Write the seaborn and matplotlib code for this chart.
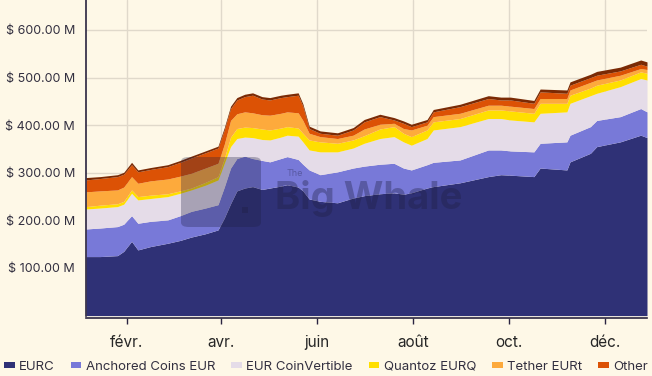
import pandas as pd
import numpy as np
import matplotlib
matplotlib.use("Agg")
import matplotlib.pyplot as plt
from matplotlib.patches import FancyBboxPatch, Rectangle
import seaborn as sns

# ==========================================
# DATA (millions USD)
# ==========================================

dates = ["2024-01-06", "2024-01-15", "2024-01-26", "2024-01-30", "2024-02-04", "2024-02-08",
         "2024-02-16", "2024-02-27", "2024-03-06", "2024-03-13", "2024-03-22", "2024-03-30",
         "2024-04-03", "2024-04-07", "2024-04-11", "2024-04-16", "2024-04-21", "2024-04-27",
         "2024-05-02", "2024-05-09", "2024-05-13", "2024-05-20", "2024-05-23", "2024-05-27",
         "2024-06-03", "2024-06-14", "2024-06-24", "2024-07-01", "2024-07-11", "2024-07-20",
         "2024-07-26", "2024-07-31", "2024-08-10", "2024-08-14", "2024-08-31", "2024-09-18",
         "2024-09-26", "2024-10-02", "2024-10-17", "2024-10-21", "2024-11-07", "2024-11-09",
         "2024-11-22", "2024-11-26", "2024-12-11", "2024-12-24", "2024-12-28"]

eurc = [124, 124, 126, 135, 156, 138, 145, 152, 158, 165, 172, 180,
        205, 235, 262, 268, 271, 265, 268, 272, 275, 270, 262, 245,
        240, 237, 247, 252, 256, 258, 255, 258, 268, 271, 279, 292,
        296, 295, 292, 310, 306, 323, 341, 355, 365, 379, 374]
anchored = [58, 60, 61, 57, 54, 56, 53, 49, 52, 54, 54, 53,
            65, 75, 68, 67, 59, 61, 55, 58, 59, 58, 56, 61,
            56, 65, 63, 62, 62, 62, 55, 48, 49, 51, 48, 56,
            52, 51, 52, 52, 59, 56, 56, 55, 53, 56, 54]
coinvertible = [42, 42, 42, 42, 47, 49, 48, 49, 47, 45, 48, 52,
                50, 45, 42, 40, 44, 44, 46, 45, 45, 49, 47, 42,
                48, 42, 42, 48, 54, 56, 55, 52, 55, 68, 70, 66,
                66, 65, 63, 63, 63, 67, 65, 57, 63, 63, 67]
eurq = [5, 6, 6, 6, 7, 7, 7, 6, 5, 4, 6, 7,
        10, 20, 21, 21, 21, 22, 21, 19, 18, 17, 18, 21,
        21, 18, 17, 16, 20, 21, 18, 18, 18, 17, 17, 18,
        18, 19, 18, 21, 18, 17, 16, 17, 14, 14, 14]
eurt = [31, 30, 29, 30, 28, 28, 30, 31, 31, 31, 30, 28,
        30, 35, 31, 32, 31, 30, 31, 31, 31, 32, 27, 14,
        11, 10, 10, 14, 10, 7, 10, 14, 10, 11, 11, 10,
        10, 10, 10, 10, 10, 11, 12, 11, 10, 7, 8]
other = [25, 26, 28, 27, 25, 24, 24, 26, 29, 32, 32, 32,
         30, 25, 29, 32, 37, 33, 32, 33, 32, 37, 30, 10,
         7, 7, 11, 15, 16, 7, 11, 7, 7, 10, 14, 14,
         11, 13, 11, 14, 11, 10, 10, 10, 9, 9, 7]
rest = [5, 4, 4, 4, 5, 4, 4, 4, 4, 4, 4, 4,
        5, 5, 5, 5, 5, 5, 5, 5, 5, 5, 5, 5,
        5, 5, 5, 5, 5, 5, 5, 5, 5, 5, 5, 6,
        6, 6, 6, 6, 7, 7, 7, 8, 8, 9, 9]

names = ["EURC", "Anchored Coins EUR", "EUR CoinVertible", "Quantoz EURQ", "Tether EURt", "Other"]
colors = ["#2f3176", "#7879d8", "#e5dce8", "#ffdf00", "#fdaa3c", "#dc5205", "#7a2a05"]

month_ticks = ["2024-02-01", "2024-04-01", "2024-06-01", "2024-08-01", "2024-10-01", "2024-12-01"]
month_labels = ["févr.", "avr.", "juin", "août", "oct.", "déc."]
y_ticks = [100, 200, 300, 400, 500, 600]

# ==========================================
# PLOT
# ==========================================

bg = "#fef8e7"
sns.set_theme(style="whitegrid", rc={"figure.facecolor": bg, "axes.facecolor": bg,
                                     "grid.color": "#e0d9cb", "grid.linewidth": 1.0})
plt.rcParams["font.family"] = ["Inter", "DejaVu Sans"]

x = pd.to_datetime(dates)
fig = plt.figure(figsize=(6.52, 3.76), dpi=100)
ax = fig.add_axes([86 / 652, 1 - 315.6 / 376, 561 / 652, 315.6 / 376])

ax.stackplot(x, eurc, anchored, coinvertible, eurq, eurt, other, rest,
             colors=colors, labels=names + ["_rest"], linewidth=0)

ax.set_xlim(pd.Timestamp("2024-01-06"), pd.Timestamp("2024-12-28"))
ax.set_ylim(0, 663)
ax.set_xticks(pd.to_datetime(month_ticks))
ax.set_xticklabels(month_labels, fontsize=8.5, fontweight="bold", color="#2a2440")
ax.set_yticks(y_ticks)
ax.set_yticklabels([f"$ {v:.2f} M" for v in y_ticks], fontsize=9, color="#333040")
ax.tick_params(axis="x", length=4, width=1, color="#2a2440", pad=8, bottom=True)
ax.tick_params(axis="y", length=0, pad=8)
ax.grid(True, axis="both")
ax.set_axisbelow(True)

for side in ["top", "right"]:
    ax.spines[side].set_visible(False)
for side in ["left", "bottom"]:
    ax.spines[side].set_color("#2a2440")
    ax.spines[side].set_linewidth(1.2)
ax.spines["bottom"].set_position(("outward", 2))

# watermark
wm = "#1e1e40"
logo = FancyBboxPatch((181 / 652, 1 - 227 / 376), 80 / 652, 70 / 376,
                      boxstyle="round,pad=0,rounding_size=0.012",
                      transform=fig.transFigure, facecolor=wm, edgecolor="none",
                      alpha=0.3, zorder=5)
fig.patches.append(logo)
fig.patches.append(Rectangle((242 / 652, 1 - 213 / 376), 6 / 652, 6 / 376,
                             transform=fig.transFigure, facecolor=wm, alpha=0.35,
                             edgecolor="none", zorder=6))
fig.text(275 / 652, 1 - 209 / 376, "Big Whale", fontsize=27.5, fontweight="bold",
         color=wm, alpha=0.35, va="baseline", ha="left")
fig.text(287 / 652, 1 - 174 / 376, "The", fontsize=6.5, color=wm, alpha=0.35,
         va="center", ha="left")

handles, labels = ax.get_legend_handles_labels()
leg = fig.legend(handles[:6], labels[:6], loc="center left", bbox_to_anchor=(4 / 652, 1 - 367 / 376),
                 ncol=6, frameon=False, fontsize=9.5, handlelength=0.8, handleheight=0.35,
                 handletextpad=0.35, columnspacing=1.2, borderpad=0, borderaxespad=0,
                 labelcolor="#333040")

fig.savefig("out.png", dpi=100, facecolor=bg)
